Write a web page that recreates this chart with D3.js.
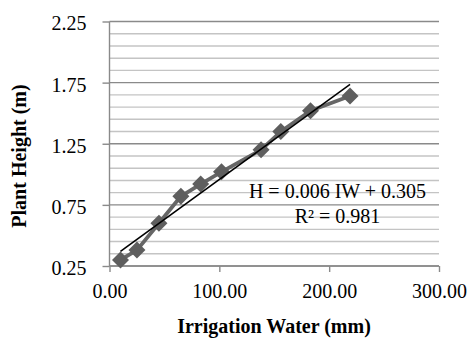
<!DOCTYPE html>
<html>
<head>
<meta charset="utf-8">
<script src="https://cdn.jsdelivr.net/npm/d3@7"></script>
<style>
  html, body { margin: 0; padding: 0; background: #fff; }
  svg { display: block; }
  text { font-family: "Liberation Serif", "Times New Roman", serif; fill: #000; }
</style>
</head>
<body>
<svg id="chart" width="472" height="340" font-family="'Liberation Serif', serif"></svg>
<script>
// Irrigation water applied (mm) and measured plant height (m)
const irrigationWater = [10, 25, 45, 65, 83, 102, 138, 156, 183, 219];
const plantHeight = [0.30, 0.38, 0.60, 0.82, 0.92, 1.02, 1.20, 1.35, 1.52, 1.64];

const xTicks = [0, 100, 200, 300];
const yTicks = [0.25, 0.75, 1.25, 1.75, 2.25];
const equationLines = ["H = 0.006 IW + 0.305", "R\u00B2 = 0.981"];
const xTitle = "Irrigation Water (mm)";
const yTitle = "Plant Height (m)";

const serif = "'Liberation Serif', 'Times New Roman', serif";
const svg = d3.select("#chart");
const x = d3.scaleLinear().domain([0, 300]).range([109.5, 439]);
const y = d3.scaleLinear().domain([0.25, 2.25]).range([266, 21.5]);

// Horizontal gridlines: minor every 0.1, major every 0.5
const gridVals = d3.range(0, 21).map(i => +(0.25 + i * 0.1).toFixed(2)).filter(v => v <= 2.25);
svg.append("g").selectAll("line").data(gridVals).join("line")
  .attr("x1", x(0)).attr("x2", x(300))
  .attr("y1", d => y(d)).attr("y2", d => y(d))
  .attr("stroke", d => yTicks.some(t => Math.abs(t - d) < 1e-6) ? "#8a8a8a" : "#c4c4c4")
  .attr("stroke-width", 1.4);

// Axes
const xAxis = d3.axisBottom(x).tickValues(xTicks).tickSize(6).tickFormat(d3.format(".2f"));
const gx = svg.append("g").attr("transform", `translate(0,${y(0.25)})`).call(xAxis)
  .attr("font-family", serif);
gx.select(".domain").attr("stroke", "#8a8a8a").attr("stroke-width", 1.4).attr("d", `M${x(0)},0H${x(300)}`);
gx.selectAll(".tick line").attr("stroke", "#8a8a8a").attr("stroke-width", 1.4);
gx.selectAll(".tick text").attr("font-size", 20).attr("y", 18).attr("dy", "0.71em")
  .style("font-family", serif).attr("fill", "#000");

const yAxis = d3.axisLeft(y).tickValues(yTicks).tickSize(7).tickFormat(d3.format(".2f"));
const gy = svg.append("g").attr("transform", `translate(${x(0)},0)`).call(yAxis)
  .attr("font-family", serif);
gy.select(".domain").attr("stroke", "#8a8a8a").attr("stroke-width", 1.4).attr("d", `M0,${y(0.25)}V${y(2.25)}`);
gy.selectAll(".tick line").attr("stroke", "#8a8a8a").attr("stroke-width", 1.4);
gy.selectAll(".tick text").attr("font-size", 20).attr("x", -23).attr("dy", "0.42em")
  .style("font-family", serif).attr("fill", "#000");

// Series line with diamond markers
const pts = irrigationWater.map((v, i) => [v, plantHeight[i]]);
svg.append("path").datum(pts)
  .attr("fill", "none").attr("stroke", "#666").attr("stroke-width", 3.8)
  .attr("stroke-linejoin", "round")
  .attr("d", d3.line().x(d => x(d[0])).y(d => y(d[1])));

const r = 8.5;
svg.append("g").selectAll("path").data(pts).join("path")
  .attr("transform", d => `translate(${x(d[0])},${y(d[1])})`)
  .attr("d", `M0,${-r}L${r},0L0,${r}L${-r},0Z`)
  .attr("fill", "#5e5e5e");

// Least-squares trendline over the data range
const mx = d3.mean(irrigationWater), my = d3.mean(plantHeight);
const sxy = d3.sum(pts, d => (d[0] - mx) * (d[1] - my));
const sxx = d3.sum(pts, d => (d[0] - mx) ** 2);
const slope = sxy / sxx, intercept = my - slope * mx;
const xMin = d3.min(irrigationWater), xMax = d3.max(irrigationWater);
svg.append("line")
  .attr("x1", x(xMin)).attr("y1", y(intercept + slope * xMin))
  .attr("x2", x(xMax)).attr("y2", y(intercept + slope * xMax))
  .attr("stroke", "#000").attr("stroke-width", 1.6);

// Regression equation
svg.append("g").selectAll("text").data(equationLines).join("text")
  .attr("x", 337.5).attr("y", (d, i) => 198 + i * 25)
  .attr("text-anchor", "middle").attr("font-size", 20).style("font-family", serif).text(d => d);

// Axis titles
svg.append("text").attr("x", 274).attr("y", 333)
  .attr("text-anchor", "middle").attr("font-size", 20).attr("font-weight", "bold")
  .style("font-family", serif).text(xTitle);
svg.append("text").attr("transform", "translate(26,156) rotate(-90)")
  .attr("text-anchor", "middle").attr("font-size", 20).attr("font-weight", "bold")
  .style("font-family", serif).text(yTitle);
</script>
</body>
</html>
